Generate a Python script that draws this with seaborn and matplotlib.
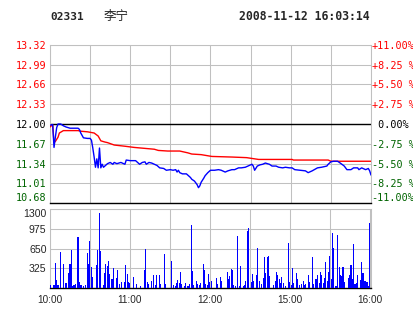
import matplotlib
matplotlib.use("Agg")
import matplotlib.pyplot as plt
import seaborn as sns

# ---------------- data ----------------
stock_code = "02331"
stock_name = "李宁"
timestamp = "2008-11-12 16:03:14"
prev_close = 12.00

price_levels = [13.32, 12.99, 12.66, 12.33, 12.00, 11.67, 11.34, 11.01, 10.68]
price_labels = ["13.32", "12.99", "12.66", "12.33", "12.00", "11.67", "11.34", "11.01", "10.68"]
pct_labels = ["+11.00%", "+8.25 %", "+5.50 %", "+2.75 %", " 0.00%",
              "-2.75 %", "-5.50 %", "-8.25 %", "-11.00%"]

# minutes since 10:00 (trading minutes; 12:30 joins 14:30)
price_min = [0, 2, 3, 4, 5, 6, 8, 10, 12, 15, 21, 22, 23, 25, 28, 30, 31, 32, 33, 34,
             35, 36, 37, 38, 39, 40, 42, 43, 45, 47, 48, 50, 53, 56, 57, 60, 64, 66, 67, 69,
             71, 72, 74, 76, 78, 80, 82, 85, 87, 90, 92, 94, 95, 96, 97, 99, 102, 105, 106, 108,
             110, 111, 112, 113, 115, 116, 118, 120, 123, 126, 128, 131, 133, 136, 138, 141, 143, 146, 148, 151,
             152, 153, 155, 157, 159, 161, 164, 166, 169, 171, 174, 176, 179, 181, 183, 187, 191, 193, 196, 200,
             203, 207, 208, 210, 212, 215, 217, 220, 222, 225, 227, 230, 231, 233, 236, 238, 239, 240]
price_val = [11.98, 11.99, 11.61, 11.78, 11.94, 12.00, 12.00, 11.97, 11.95, 11.93, 11.93, 11.91, 11.85, 11.77, 11.76, 11.76, 11.73, 11.60, 11.45, 11.28,
             11.42, 11.27, 11.60, 11.27, 11.33, 11.28, 11.32, 11.34, 11.36, 11.33, 11.36, 11.34, 11.36, 11.33, 11.40, 11.39, 11.39, 11.35, 11.33, 11.36,
             11.37, 11.33, 11.36, 11.35, 11.33, 11.31, 11.27, 11.26, 11.23, 11.24, 11.23, 11.24, 11.20, 11.23, 11.19, 11.17, 11.17, 11.11, 11.08, 11.05,
             10.99, 10.94, 10.97, 11.03, 11.10, 11.14, 11.19, 11.23, 11.23, 11.24, 11.23, 11.20, 11.22, 11.24, 11.24, 11.27, 11.27, 11.28, 11.30, 11.33,
             11.30, 11.23, 11.30, 11.32, 11.33, 11.35, 11.33, 11.30, 11.30, 11.28, 11.27, 11.28, 11.27, 11.27, 11.24, 11.23, 11.22, 11.19, 11.22, 11.27,
             11.28, 11.30, 11.33, 11.37, 11.38, 11.38, 11.35, 11.30, 11.24, 11.24, 11.27, 11.27, 11.24, 11.27, 11.24, 11.26, 11.22, 11.15]

avg_min = [0, 2, 3, 4, 6, 7, 10, 21, 23, 28, 33, 36, 38, 41, 43, 48, 56, 63, 68, 78,
           81, 88, 97, 103, 106, 113, 121, 136, 147, 156, 181, 182, 208, 210, 240]
avg_val = [11.95, 11.99, 11.69, 11.71, 11.78, 11.85, 11.89, 11.89, 11.88, 11.87, 11.85, 11.80, 11.72, 11.70, 11.69, 11.65, 11.63, 11.61, 11.60, 11.58,
           11.56, 11.55, 11.55, 11.52, 11.50, 11.49, 11.46, 11.45, 11.44, 11.41, 11.41, 11.40, 11.40, 11.38, 11.38]

vol_min = [0, 3, 4, 5, 6, 8, 10, 12, 14, 15, 16, 17, 18, 19, 21, 22, 23, 24, 25, 27,
           28, 29, 30, 31, 32, 35, 36, 37, 38, 40, 41, 42, 43, 44, 45, 46, 47, 48, 50, 51,
           52, 54, 56, 57, 58, 59, 60, 63, 65, 68, 71, 72, 73, 74, 76, 78, 79, 80, 82, 83,
           86, 87, 91, 93, 94, 95, 96, 97, 98, 99, 101, 102, 103, 104, 105, 106, 107, 108, 110, 111,
           112, 113, 115, 116, 117, 118, 119, 120, 121, 125, 126, 128, 129, 133, 134, 135, 136, 137, 138, 139,
           141, 142, 143, 145, 146, 147, 148, 149, 151, 152, 153, 155, 156, 157, 159, 160, 161, 162, 163, 164,
           165, 168, 169, 170, 171, 172, 173, 174, 175, 177, 179, 180, 181, 182, 183, 185, 186, 187, 189, 190,
           191, 192, 194, 195, 197, 198, 199, 200, 201, 202, 203, 204, 205, 206, 207, 208, 209, 210, 211, 212,
           213, 214, 215, 216, 217, 218, 219, 220, 221, 224, 225, 226, 227, 228, 229, 230, 231, 233, 234, 235,
           236, 237, 238, 239, 240]
vol_val = [55, 55, 411, 137, 55, 598, 395, 93, 247, 395, 631, 38, 55, 71, 845, 104, 55, 55, 38, 55,
           581, 395, 779, 345, 186, 378, 631, 1229, 614, 55, 247, 395, 367, 450, 230, 159, 159, 335, 176, 302,
           71, 104, 104, 384, 236, 99, 88, 186, 71, 38, 302, 647, 104, 71, 121, 219, 55, 219, 219, 71,
           565, 71, 450, 55, 38, 88, 137, 88, 269, 71, 38, 88, 38, 38, 71, 1042, 285, 55, 121, 71,
           55, 88, 395, 302, 71, 55, 236, 104, 121, 170, 71, 186, 121, 269, 154, 203, 318, 302, 55, 38,
           861, 38, 367, 38, 55, 121, 943, 993, 104, 236, 121, 219, 664, 121, 71, 170, 516, 252, 516, 532,
           203, 55, 121, 269, 219, 154, 88, 186, 88, 38, 746, 104, 55, 335, 88, 252, 154, 55, 71, 121,
           55, 71, 219, 104, 516, 71, 154, 154, 219, 88, 269, 219, 88, 170, 433, 121, 269, 532, 154, 910,
           664, 38, 38, 878, 351, 219, 203, 351, 104, 170, 219, 384, 154, 729, 71, 88, 219, 137, 433, 252,
           121, 121, 104, 38, 1075]

vol_ticks = [325, 650, 975, 1300]
time_ticks = [0, 30, 60, 90, 120, 150, 180, 210, 240]
time_labels = ["10:00", "", "11:00", "", "12:00", "", "15:00", "", "16:00"]

# ---------------- style ----------------
sns.set_style("white")
plt.rcParams["font.family"] = ["DejaVu Sans", "Noto Sans CJK SC"]

W, H = 414, 314
fig = plt.figure(figsize=(W / 100, H / 100), dpi=100)
GRID = "#c0c0c0"
RED = "#ff0000"
GREEN = "#006400"
BLUE = "#0000ff"
GLW = 0.75

def fx(px):
    return px / W

def fy(py):
    return 1 - py / H

# price panel
L, R = 50, 371
ax = fig.add_axes([fx(L), fy(203.3), fx(R - L), (203.3 - 44.7) / H])
ax.set_xlim(0, 240)
ax.set_ylim(10.68, 13.32)
ax.set_xticks(time_ticks)
ax.set_xticklabels([])
ax.set_yticks(price_levels)
ax.grid(True, color=GRID, lw=GLW)
ax.tick_params(length=0, pad=2.5)
for s in ["top", "left", "right"]:
    ax.spines[s].set_color(GRID)
    ax.spines[s].set_linewidth(GLW)
ax.spines["bottom"].set_color("black")
ax.spines["bottom"].set_linewidth(1.0)
ax.axhline(prev_close, color="black", lw=1.0, zorder=2)

sns.lineplot(x=avg_min, y=avg_val, color=RED, lw=1.0, estimator=None, ax=ax, zorder=3)
sns.lineplot(x=price_min, y=price_val, color=BLUE, lw=1.0, estimator=None, ax=ax, zorder=4)
ax.set_xlabel("")
ax.set_ylabel("")

colors = [RED] * 4 + ["black"] + [GREEN] * 4
ax.set_yticklabels(price_labels, family="DejaVu Sans Mono", fontsize=7.3)
for lab, c in zip(ax.get_yticklabels(), colors):
    lab.set_color(c)
ax.get_yticklabels()[-1].set_va("bottom")

ax2 = ax.twinx()
ax2.set_ylim(10.68, 13.32)
ax2.set_yticks(price_levels)
ax2.set_yticklabels(pct_labels, family="DejaVu Sans Mono", fontsize=7.3)
ax2.tick_params(length=0, pad=0.5)
for lab, c in zip(ax2.get_yticklabels(), colors):
    lab.set_color(c)
ax2.get_yticklabels()[-1].set_va("bottom")
for s in ax2.spines.values():
    s.set_visible(False)

# volume panel
axv = fig.add_axes([fx(L), fy(288.3), fx(R - L), (288.3 - 209) / H])
sns.barplot(x=vol_min, y=vol_val, native_scale=True, color=BLUE, saturation=1,
            errorbar=None, width=0.8, linewidth=0, antialiased=False, ax=axv, zorder=3)
axv.set_xlim(0, 241)
axv.set_ylim(0, 1300)
axv.set_xticks(time_ticks)
axv.set_xticklabels(time_labels, family="Liberation Sans", fontsize=7.2)
axv.set_yticks(vol_ticks)
axv.set_yticklabels([str(v) for v in vol_ticks], family="Liberation Sans", fontsize=7.6)
axv.get_yticklabels()[-1].set_va("top")
axv.grid(True, color=GRID, lw=GLW)
axv.set_axisbelow(True)
axv.tick_params(length=0, pad=2.5)
axv.tick_params(axis="x", pad=5)
axv.set_xlabel("")
axv.set_ylabel("")
for s in ["top", "left", "right"]:
    axv.spines[s].set_color(GRID)
    axv.spines[s].set_linewidth(GLW)
axv.spines["bottom"].set_color("black")
axv.spines["bottom"].set_linewidth(1.0)

# header
fig.text(fx(50), fy(16.5), stock_code, family="DejaVu Sans Mono", weight="bold",
         fontsize=8, va="center", ha="left")
fig.text(fx(104), fy(16.5), stock_name, family=["Noto Sans CJK SC", "DejaVu Sans"],
         fontsize=9, va="center", ha="left")
fig.text(fx(370), fy(16.5), timestamp, family="DejaVu Sans Mono", weight="bold",
         fontsize=8.3, va="center", ha="right")

fig.savefig("out.png", dpi=100)
